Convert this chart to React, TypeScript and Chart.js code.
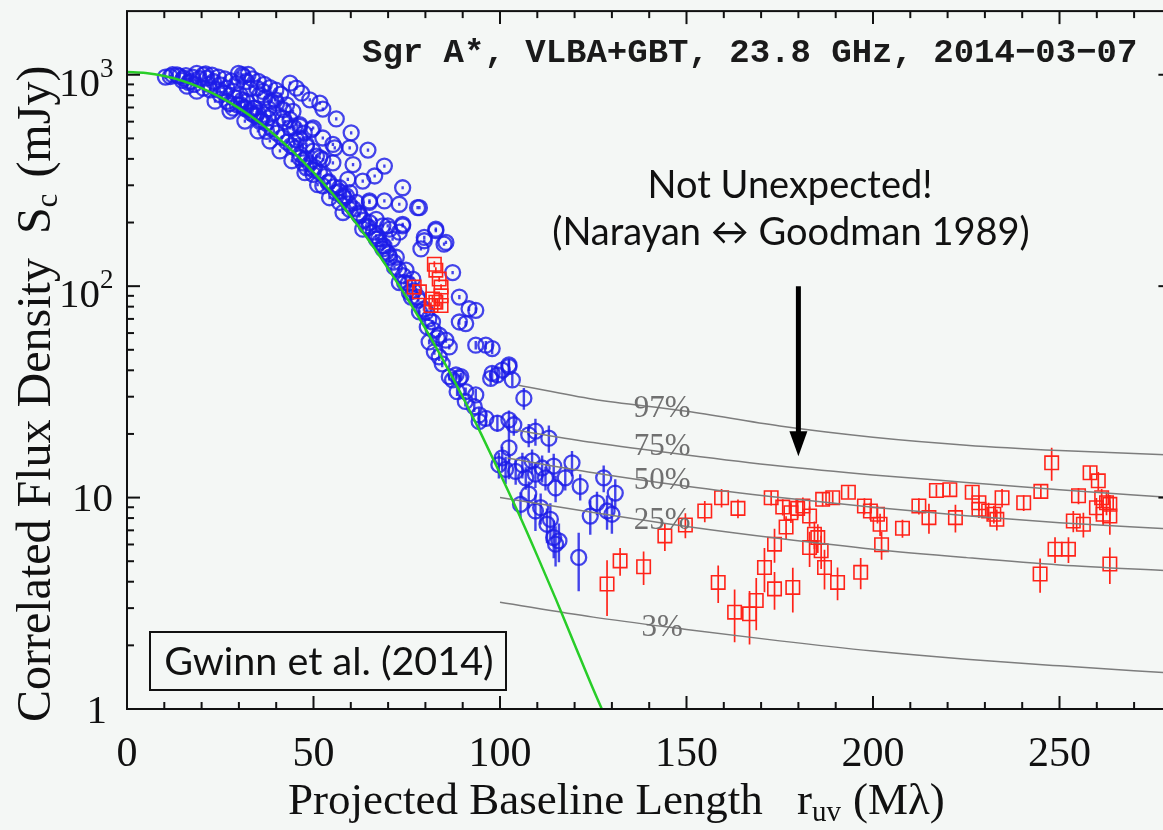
import React, { useEffect, useRef } from "react";
import { Chart, registerables } from "chart.js";

Chart.register(...registerables);

// ---- axes ----
const X_MAX = 280;
const Y_MIN = 1;
const Y_MAX = 2000;
const xTickLabels = [0, 50, 100, 150, 200, 250];
const yDecadeLabels = [1, 10, 100, 1000];

// ---- Gaussian source model (green) ----
const modelR = [0, 5, 10, 15, 20, 25, 30, 35, 40, 45, 50, 55, 60, 65, 70, 75, 80, 85, 90, 95, 100, 105, 110, 115, 120, 125, 130];
const modelS = [1030, 1019, 986, 934, 865, 784, 695, 604, 512, 425, 345, 275, 214, 163, 121, 88.2, 62.9, 43.8, 29.9, 19.9, 13.0, 8.4, 5.3, 3.3, 2.02, 1.24, 0.78];

// ---- refractive-substructure percentile curves [r, S] ----
const pct97 = [[105, 34], [125, 29.2], [150, 25.6], [175, 21.8], [200, 19.3], [225, 17.7], [250, 16.7], [280, 15.9]];
const pct75 = [[104, 20.9], [125, 18.2], [150, 15.9], [175, 14.1], [200, 12.8], [225, 11.8], [250, 10.9], [280, 10.0]];
const pct50 = [[102, 15.4], [125, 13.1], [150, 11.3], [175, 10.0], [200, 9.0], [225, 8.2], [250, 7.6], [280, 7.1]];
const pct25 = [[100, 10.0], [125, 8.5], [150, 7.3], [175, 6.4], [200, 5.7], [225, 5.2], [250, 4.8], [280, 4.5]];
const pct03 = [[100, 3.2], [125, 2.72], [150, 2.38], [175, 2.1], [200, 1.88], [225, 1.72], [250, 1.6], [280, 1.48]];
const pctNames = ["97%", "75%", "50%", "25%", "3%"];
const pctLabelR = 143.5;
const pctLabelS = [26.4, 17.3, 12.0, 7.75, 2.41];

// ---- VLBA+GBT visibilities, blue circles [r (Mλ), S (mJy), error] ----
const blueObs = [
  // short baselines, near the peak
  [10.3, 975, 5], [11.6, 981, 5], [12.2, 1000, 5], [13.4, 998, 5], [14.0, 985, 5], [14.8, 940, 5],
  [15.2, 963, 5], [15.8, 990, 5], [16.1, 883, 5], [16.5, 920, 5], [17.0, 929, 5], [17.6, 975, 5],
  [18.0, 900, 5], [18.7, 1016, 5], [18.7, 836, 5], [19.4, 960, 5], [20.5, 998, 5], [20.5, 864, 5],
  [21.1, 1010, 5], [21.4, 963, 5], [21.9, 900, 5], [22.3, 848, 5], [22.8, 995, 5], [23.2, 929, 5],
  [23.6, 750, 4], [24.2, 850, 4], [24.5, 975, 5], [25.0, 896, 5], [25.0, 804, 4], [26.0, 820, 4],
  [26.2, 955, 5], [26.8, 864, 5], [26.8, 748, 4], [27.5, 730, 4], [27.6, 673, 4], [27.9, 935, 5],
  [28.5, 834, 4], [28.5, 695, 4], [29.0, 780, 4], [29.4, 910, 5], [29.6, 720, 4], [29.9, 1016, 5],
  [30.3, 804, 4], [30.9, 1000, 5], [30.9, 760, 4], [31.2, 981, 5], [31.4, 700, 4], [31.6, 604, 3],
  [32.1, 929, 5], [32.1, 748, 4], [32.5, 1005, 5], [33.0, 860, 4], [33.1, 680, 4], [33.6, 955, 5],
  [33.9, 695, 4], [33.9, 647, 4], [34.3, 695, 4], [34.8, 864, 5], [35.0, 660, 4], [35.1, 542, 3],
  [35.2, 930, 5], [35.6, 804, 4], [35.6, 602, 3], [36.5, 834, 4], [36.6, 650, 4], [36.8, 900, 5],
  [37.0, 780, 4], [37.4, 540, 3], [37.8, 624, 3], [38.0, 690, 4], [38.3, 486, 3], [38.3, 870, 5],
  [38.6, 750, 4], [39.2, 659, 4], [39.7, 761, 4], [39.9, 845, 4], [40.1, 734, 4], [41.0, 436, 3],
  [41.2, 810, 4], [41.9, 624, 3], [41.9, 683, 4], [42.3, 600, 3], [42.8, 721, 4], [43.7, 912, 5],
  [43.7, 560, 3], [43.7, 613, 3], [44.2, 392, 2], [44.5, 671, 4], [44.9, 560, 3], [45.4, 864, 5],
  [45.4, 493, 3], [46.3, 581, 3], [46.3, 502, 3], [46.3, 405, 2], [46.3, 570, 3], [46.8, 818, 4],
  [47.2, 383, 2], [47.5, 530, 3], [47.7, 344, 2], [48.1, 468, 3], [48.1, 363, 2], [48.1, 459, 3],
  [49.0, 761, 4], [49.5, 550, 3], [49.9, 560, 3], [49.9, 435, 2], [49.9, 338, 2], [49.9, 356, 2],
  [50.8, 412, 2], [51.1, 302, 2], [51.7, 405, 2], [51.7, 734, 4], [52.5, 502, 3], [52.5, 688, 4],
  [52.5, 397, 2], [52.5, 298, 2], [53.9, 309, 2], [54.3, 262, 2], [55.2, 468, 3], [55.2, 383, 2],
  [55.7, 451, 3], [56.1, 618, 3], [56.1, 277, 2], [57.0, 292, 2], [57.0, 249, 2], [57.9, 267, 2],
  [57.9, 223, 2], [58.8, 267, 2], [59.2, 320, 2], [59.7, 451, 3], [59.7, 231, 2], [59.7, 277, 2],
  [60.1, 531, 3], [60.6, 376, 2], [61.5, 249, 2], [62.3, 215, 2], [62.3, 219, 2], [63.2, 314, 2],
  [63.2, 186, 2], [64.1, 193, 2], [64.6, 440, 3], [65.0, 253, 2], [65.0, 249, 2], [65.0, 200, 2],
  [66.4, 332, 2], [66.8, 173, 2], [66.8, 167, 2], [66.8, 207, 2], [67.7, 161, 2], [68.6, 155, 2],
  [68.6, 193, 2], [68.6, 150, 2], [69.0, 370, 2], [69.0, 253, 2], [69.5, 145, 2], [69.9, 193, 2],
  [70.4, 186, 2], [70.4, 137, 2], [71.2, 167, 2], [71.7, 123, 2], [72.2, 137, 2], [73.0, 244, 2],
  [73.0, 180, 2], [73.0, 104, 2], [73.9, 292, 2], [73.9, 196, 2], [73.9, 193, 2], [74.4, 104, 2],
  [74.8, 119, 2], [75.7, 93.7, 1.5], [76.2, 88.8, 1.5], [76.6, 108, 1.5], [77.9, 235, 2], [77.9, 88.8, 1.5],
  [78.4, 235, 2], [78.4, 75.5, 1.5], [78.8, 150, 2], [79.7, 170, 2], [79.7, 164, 2], [80.2, 75.5, 1.5],
  [80.5, 64.1, 1.5], [81.0, 54.5, 1.5], [81.9, 67.7, 1.5], [82.4, 48.9, 1.5], [82.8, 186, 2], [82.8, 183, 2],
  [83.7, 58.6, 1.5], [83.7, 46.3, 2], [84.5, 42.9, 1.5], [85.0, 158, 2], [85.5, 161, 2], [85.5, 55.5, 1.5],
  [86.4, 51.6, 1.5], [86.4, 37.3, 1.5], [87.3, 116, 2], [87.3, 36.0, 1.5], [88.2, 38.0, 1.5], [88.5, 31.7, 1.5],
  [89.1, 88.8, 2], [89.1, 67.7, 2], [89.1, 36.6, 1.5], [89.5, 37.3, 1.5], [90.7, 28.5, 1.5], [90.8, 66.5, 2],
  [90.8, 31.7, 1.5], [91.7, 78.2, 2], [93.1, 26.9, 1.5], [93.5, 76.9, 2.5], [93.5, 52.6, 2.5], [93.5, 30.6, 2],
  [94.4, 24.6, 2], [94.4, 22.9, 2], [96.2, 52.6, 2.5], [96.2, 23.7, 2], [97.5, 36.6, 2.5], [97.9, 50.7, 3],
  [97.9, 38.7, 3], [99.3, 38.0, 3], [99.3, 22.5, 2], [99.7, 14.3, 2], [100.6, 40.1, 4], [100.6, 15.4, 2],
  [101.5, 13.6, 2], [102.4, 42.4, 3], [102.4, 41.6, 3], [102.4, 23.3, 2.5], [102.4, 17.2, 5], [103.3, 36.0, 2.5],
  [103.7, 22.1, 2.5], [104.2, 13.3, 1.8], [105.5, 9.29, 1.3], [106.0, 14.3, 2.0], [106.4, 29.5, 3.5], [106.9, 12.4, 1.5],
  [107.7, 19.8, 2.5], [107.7, 10.4, 1.5], [108.6, 14.9, 2.0], [109.5, 20.6, 3.0], [109.5, 12.9, 1.8], [109.5, 8.64, 1.7],
  [110.9, 8.96, 1.5], [111.3, 13.8, 2.0], [112.2, 12.4, 1.6], [112.6, 7.48, 1.4], [113.1, 19.1, 2.8], [113.5, 7.89, 1.5],
  [114.4, 14.1, 2.0], [114.4, 6.47, 1.3], [114.9, 11.1, 1.6], [114.9, 6.02, 1.3], [115.8, 6.24, 1.3], [117.5, 12.4, 1.6],
  [119.3, 14.6, 2.0], [121.1, 5.21, 1.6], [121.5, 11.3, 1.6], [124.2, 8.18, 1.5], [126.0, 9.45, 1.2], [127.8, 12.4, 1.8],
  [128.7, 8.64, 1.6], [130.0, 8.34, 1.6], [130.9, 10.5, 1.7],
  // dense band hugging the model curve
  [30.5, 720, 4], [31.8, 690, 4], [33.2, 660, 4], [34.6, 640, 4], [36.0, 610, 3], [37.3, 590, 3],
  [38.8, 555, 3], [40.2, 530, 3], [41.5, 505, 3], [42.9, 480, 3], [44.0, 462, 3], [45.2, 450, 3],
  [46.5, 420, 2], [47.8, 400, 2], [49.0, 380, 2], [50.3, 365, 2], [51.6, 345, 2], [52.9, 330, 2],
  [54.1, 312, 2], [55.4, 295, 2], [56.8, 280, 2], [58.2, 262, 2], [59.5, 245, 2], [60.8, 232, 2],
  [62.0, 222, 2], [63.5, 205, 2], [64.8, 190, 2], [66.0, 180, 2], [67.4, 168, 2], [68.9, 155, 2],
  [70.1, 142, 2], [71.5, 130, 2], [72.8, 120, 2], [74.1, 112, 2], [75.4, 103, 1.5], [76.9, 95, 1.5],
  [78.1, 86, 1.5], [79.6, 78, 1.5], [80.9, 70, 1.5], [82.1, 62, 1.5], [83.2, 57, 1.5],
];

// ---- long-baseline detections, red squares [r (Mλ), S (mJy), error] ----
const redObs = [
  [77.0, 99, 3], [78.4, 94, 3], [81.5, 81, 3], [81.9, 87, 3], [82.4, 127, 4], [82.8, 119, 4],
  [82.8, 84, 3], [83.7, 108, 3], [84.2, 99, 3], [84.2, 90, 3], [84.2, 81, 3],
  [128.7, 3.9, 1.15], [132.2, 5.02, 0.75], [138.5, 4.71, 0.85], [144.2, 6.59, 1.0], [149.7, 7.42, 1.0],
  [154.9, 8.64, 1.0], [159.4, 9.98, 1.0], [163.8, 8.89, 0.9], [158.5, 3.97, 0.8], [162.9, 2.87, 0.8],
  [166.9, 2.82, 0.8], [168.7, 3.26, 0.9], [170.9, 4.67, 1.1], [173.6, 6.02, 1.1], [173.6, 3.7, 0.75],
  [178.5, 3.76, 0.9], [172.7, 9.98, 0.8], [175.8, 9.02, 0.8], [176.7, 7.26, 0.9], [178.0, 8.48, 0.9],
  [179.8, 8.89, 0.9], [181.2, 9.12, 0.9], [183.0, 8.18, 0.9], [183.0, 5.8, 1.1], [184.3, 6.71, 1.0],
  [185.2, 6.47, 1.0], [186.1, 5.6, 1.0], [187.0, 4.67, 1.0], [190.5, 3.97, 0.7], [186.5, 9.81, 0.7],
  [189.2, 9.98, 0.7], [193.4, 10.6, 0.7], [197.7, 9.12, 0.8], [199.3, 8.64, 0.8], [201.2, 8.34, 0.8],
  [201.9, 7.48, 0.9], [202.3, 5.98, 0.9], [196.7, 4.43, 0.75], [207.9, 7.16, 0.7], [212.3, 9.12, 0.8],
  [215.0, 8.04, 1.3], [217.0, 10.8, 0.7], [220.6, 10.9, 0.7], [222.1, 8.04, 1.2], [226.6, 10.6, 0.7],
  [228.4, 9.45, 0.8], [228.4, 8.8, 0.8], [231.0, 8.64, 0.8], [232.4, 8.34, 0.8], [233.2, 7.89, 0.9],
  [234.6, 9.98, 1.0], [240.4, 9.45, 0.8], [245.0, 10.7, 0.8], [247.9, 14.6, 2.6], [244.8, 4.35, 0.8],
  [248.8, 5.7, 0.8], [252.4, 5.7, 0.8], [255.1, 10.2, 0.9], [253.7, 7.75, 0.9], [256.4, 7.48, 1.0],
  [258.2, 13.1, 1.0], [260.4, 12.0, 1.2], [261.3, 9.98, 1.0], [262.6, 9.45, 1.2], [263.5, 9.29, 1.0],
  [263.5, 8.18, 1.5], [263.5, 4.85, 0.95], [259.9, 8.95, 1.0], [261.7, 8.34, 1.0],
];

// ---- annotation arrow (r, from S, to S) ----
const arrowR = 180;
const arrowFromS = 100;
const arrowToS = 15.7;

const BG = "#f4f7f5";
const SERIF = '"Liberation Serif", "DejaVu Serif", serif';
const SANS = 'Lato, "Open Sans", sans-serif';
const MONO = '"Liberation Mono", "DejaVu Sans Mono", monospace';

const CANVAS_W = 1185;
const CANVAS_H = 830;

const toPoints = (rows: number[][]) => rows.map((p) => ({ x: p[0], y: p[1] }));

const background = {
  id: "background",
  beforeDraw(chart: any) {
    const { ctx, width, height } = chart;
    ctx.save();
    ctx.fillStyle = BG;
    ctx.fillRect(0, 0, width, height);
    ctx.restore();
  },
};

const errorBars = {
  id: "errorBars",
  afterDatasetDraw(chart: any, args: any) {
    const ds = chart.data.datasets[args.index];
    if (!ds.errs) return;
    const { ctx, chartArea: a } = chart;
    const x = chart.scales.x;
    const y = chart.scales.y;
    ctx.save();
    ctx.beginPath();
    ctx.rect(a.left, a.top, a.right - a.left, a.bottom - a.top);
    ctx.clip();
    ctx.strokeStyle = ds.borderColor;
    ctx.lineWidth = ds.errWidth;
    ds.data.forEach((p: any, i: number) => {
      const e = ds.errs[i];
      const px = x.getPixelForValue(p.x);
      const py = y.getPixelForValue(p.y);
      let top = y.getPixelForValue(p.y + e);
      let bot = y.getPixelForValue(Math.max(p.y - e, 0.05));
      if (py - top < 1.6) top = py - 1.6;
      if (bot - py < 1.6) bot = py + 1.6;
      ctx.beginPath();
      ctx.moveTo(px, top);
      ctx.lineTo(px, bot);
      ctx.stroke();
    });
    ctx.restore();
  },
};

const decorations = {
  id: "decorations",
  afterDraw(chart: any) {
    const { ctx, chartArea: a } = chart;
    const x = chart.scales.x;
    const y = chart.scales.y;
    ctx.save();

    // percentile labels sitting on their curves
    ctx.font = `31px ${SERIF}`;
    ctx.fillStyle = "rgb(112,112,112)";
    ctx.textAlign = "center";
    ctx.textBaseline = "middle";
    pctNames.forEach((t, i) => {
      ctx.fillText(t, x.getPixelForValue(pctLabelR), y.getPixelForValue(pctLabelS[i]));
    });

    // arrow
    const ax = x.getPixelForValue(arrowR);
    const ay0 = y.getPixelForValue(arrowFromS);
    const ay1 = y.getPixelForValue(arrowToS);
    ctx.strokeStyle = "#000";
    ctx.fillStyle = "#000";
    ctx.lineWidth = 5;
    ctx.beginPath();
    ctx.moveTo(ax, ay0);
    ctx.lineTo(ax, ay1 - 20);
    ctx.stroke();
    ctx.beginPath();
    ctx.moveTo(ax - 9, ay1 - 25);
    ctx.lineTo(ax + 9, ay1 - 25);
    ctx.lineTo(ax, ay1);
    ctx.closePath();
    ctx.fill();

    // frame
    ctx.strokeStyle = "#111";
    ctx.lineWidth = 2;
    ctx.strokeRect(a.left, a.top, a.right - a.left, a.bottom - a.top);

    const seg = (x0: number, y0: number, x1: number, y1: number) => {
      ctx.beginPath();
      ctx.moveTo(x0, y0);
      ctx.lineTo(x1, y1);
      ctx.stroke();
    };

    // inward ticks, x
    for (let v = 10; v < X_MAX; v += 10) {
      const px = x.getPixelForValue(v);
      const len = v % 50 === 0 ? 13 : 7;
      seg(px, a.bottom, px, a.bottom - len);
      seg(px, a.top, px, a.top + len);
    }
    // inward ticks, y (log)
    for (let d = 1; d < Y_MAX; d *= 10) {
      for (let m = 1; m <= 9; m++) {
        const v = d * m;
        if (v <= Y_MIN || v >= Y_MAX) continue;
        const py = y.getPixelForValue(v);
        const len = m === 1 ? 13 : 7;
        seg(a.left, py, a.left + len, py);
        seg(a.right, py, a.right - len, py);
      }
    }

    // tick labels
    ctx.fillStyle = "#111";
    ctx.textBaseline = "alphabetic";
    ctx.font = `42px ${SERIF}`;
    ctx.textAlign = "center";
    xTickLabels.forEach((v) => {
      ctx.fillText(String(v), x.getPixelForValue(v), 766);
    });
    yDecadeLabels.forEach((v) => {
      const py = y.getPixelForValue(v);
      const exp = Math.round(Math.log10(v));
      ctx.font = `41px ${SERIF}`;
      if (exp === 0) {
        ctx.textAlign = "right";
        ctx.fillText("1", 107, py + 14);
      } else if (exp === 1) {
        ctx.textAlign = "right";
        ctx.fillText("10", 113, py + 13);
      } else {
        ctx.textAlign = "right";
        ctx.fillText("10", 100, py + 21);
        ctx.font = `27px ${SERIF}`;
        ctx.textAlign = "left";
        ctx.fillText(String(exp), 100, py + 2);
      }
    });

    // x-axis title with subscript
    ctx.textAlign = "left";
    const xb = 814;
    ctx.font = `45px ${SERIF}`;
    ctx.fillText("Projected Baseline Length", 288, xb);
    let cx = 797;
    ctx.fillText("r", cx, xb);
    cx += ctx.measureText("r").width;
    ctx.font = `29px ${SERIF}`;
    ctx.fillText("uv", cx, xb + 7);
    cx += ctx.measureText("uv").width + 12;
    ctx.font = `45px ${SERIF}`;
    ctx.fillText("(Mλ)", cx, xb);

    // y-axis title, rotated, with subscript
    ctx.save();
    ctx.translate(50, 722);
    ctx.rotate(-Math.PI / 2);
    ctx.textAlign = "left";
    ctx.font = `48px ${SERIF}`;
    let u = 0;
    const part1 = "Correlated Flux Density  S";
    ctx.fillText(part1, u, 0);
    u += ctx.measureText(part1).width;
    ctx.font = `31px ${SERIF}`;
    ctx.fillText("c", u, 7);
    u += ctx.measureText("c").width;
    ctx.font = `48px ${SERIF}`;
    ctx.fillText(" (mJy)", u + 4, 0);
    ctx.restore();

    // observation caption
    ctx.font = `bold 34px ${MONO}`;
    ctx.textAlign = "left";
    ctx.fillStyle = "#1a1a1a";
    ctx.fillText("Sgr A*, VLBA+GBT, 23.8 GHz, 2014\u221203\u221207", 362, 62);

    // remark
    ctx.font = `38px ${SANS}`;
    ctx.textAlign = "center";
    ctx.fillStyle = "#111";
    ctx.fillText("Not Unexpected!", 790, 198);
    ctx.fillText("(Narayan \u2194 Goodman 1989)", 791, 245);

    // reference box
    ctx.fillStyle = BG;
    ctx.fillRect(150, 632, 356, 58);
    ctx.strokeStyle = "#111";
    ctx.lineWidth = 2;
    ctx.strokeRect(150, 632, 356, 58);
    ctx.fillStyle = "#111";
    ctx.font = `39.5px ${SANS}`;
    ctx.fillText("Gwinn et al. (2014)", 329, 675);

    ctx.restore();
  },
};

export default function App() {
  const ref = useRef<HTMLCanvasElement | null>(null);

  useEffect(() => {
    const canvas = ref.current;
    if (!canvas) return;
    const line = (rows: number[][], color: string, width: number, order: number) => ({
      data: toPoints(rows),
      showLine: true,
      borderColor: color,
      borderWidth: width,
      pointRadius: 0,
      cubicInterpolationMode: "monotone",
      order,
    });
    const chart = new Chart(canvas, {
      type: "scatter",
      data: {
        datasets: [
          line(modelR.map((r, i) => [r, modelS[i]]), "rgb(40,205,40)", 2.5, 0),
          line(pct97, "rgb(125,125,125)", 1.5, 1),
          line(pct75, "rgb(125,125,125)", 1.5, 1),
          line(pct50, "rgb(125,125,125)", 1.5, 1),
          line(pct25, "rgb(125,125,125)", 1.5, 1),
          line(pct03, "rgb(125,125,125)", 1.5, 1),
          {
            data: toPoints(redObs),
            errs: redObs.map((p) => p[2]),
            errWidth: 1.7,
            pointStyle: "rect",
            pointRadius: 9.5,
            borderWidth: 1.6,
            borderColor: "rgb(255,35,25)",
            backgroundColor: "rgba(0,0,0,0)",
            order: 2,
          },
          {
            data: toPoints(blueObs),
            errs: blueObs.map((p) => p[2]),
            errWidth: 2.4,
            pointStyle: "circle",
            pointRadius: 7.5,
            borderWidth: 2.3,
            borderColor: "rgba(28,28,232,0.82)",
            backgroundColor: "rgba(0,0,0,0)",
            order: 3,
          },
        ] as any,
      },
      options: {
        animation: false,
        responsive: false,
        maintainAspectRatio: false,
        devicePixelRatio: 1,
        events: [],
        layout: {
          padding: { left: 127, top: 8, right: CANVAS_W - 1171.4, bottom: CANVAS_H - 709 },
        },
        plugins: {
          legend: { display: false },
          tooltip: { enabled: false },
        },
        scales: {
          x: { type: "linear", min: 0, max: X_MAX, display: false },
          y: { type: "logarithmic", min: Y_MIN, max: Y_MAX, display: false },
        },
      } as any,
      plugins: [background, errorBars, decorations],
    });
    return () => chart.destroy();
  }, []);

  return (
    <div
      style={{
        position: "fixed",
        left: 0,
        top: 0,
        width: 1163,
        height: 830,
        overflow: "hidden",
        background: BG,
      }}
    >
      <canvas ref={ref} width={CANVAS_W} height={CANVAS_H} style={{ width: CANVAS_W, height: CANVAS_H, display: "block" }} />
    </div>
  );
}
